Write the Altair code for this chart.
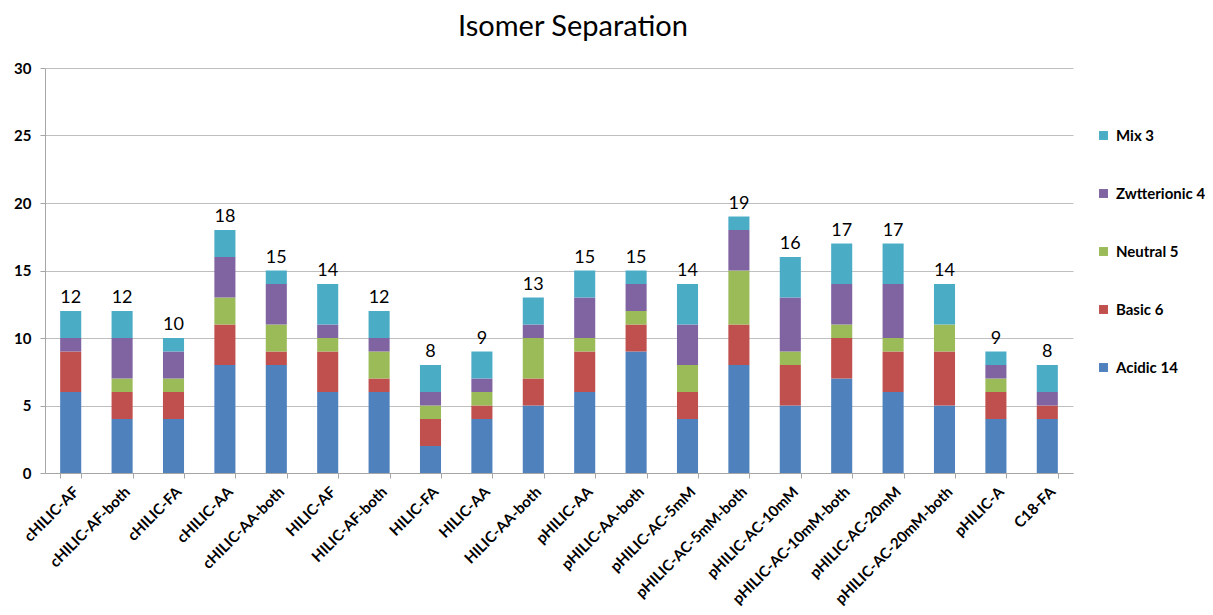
import altair as alt
import pandas as pd

methods = ["cHILIC-AF", "cHILIC-AF-both", "cHILIC-FA", "cHILIC-AA", "cHILIC-AA-both",
           "HILIC-AF", "HILIC-AF-both", "HILIC-FA", "HILIC-AA", "HILIC-AA-both",
           "pHILIC-AA", "pHILIC-AA-both", "pHILIC-AC-5mM", "pHILIC-AC-5mM-both",
           "pHILIC-AC-10mM", "pHILIC-AC-10mM-both", "pHILIC-AC-20mM",
           "pHILIC-AC-20mM-both", "pHILIC-A", "C18-FA"]
acidic = [6, 4, 4, 8, 8, 6, 6, 2, 4, 5, 6, 9, 4, 8, 5, 7, 6, 5, 4, 4]
basic = [3, 2, 2, 3, 1, 3, 1, 2, 1, 2, 3, 2, 2, 3, 3, 3, 3, 4, 2, 1]
neutral = [0, 1, 1, 2, 2, 1, 2, 1, 1, 3, 1, 1, 2, 4, 1, 1, 1, 2, 1, 0]
zwitterionic = [1, 3, 2, 3, 3, 1, 1, 1, 1, 1, 3, 2, 3, 3, 4, 3, 4, 0, 1, 1]
mix = [2, 2, 1, 2, 1, 3, 2, 2, 2, 2, 2, 1, 3, 1, 3, 3, 3, 3, 1, 2]

series_names = ["Acidic 14", "Basic 6", "Neutral 5", "Zwtterionic 4", "Mix 3"]
series_values = [acidic, basic, neutral, zwitterionic, mix]
series_colors = ["#4F81BD", "#C0504D", "#9BBB59", "#8064A2", "#4BACC6"]

rows = []
for si, (name, vals) in enumerate(zip(series_names, series_values)):
    for m, v in zip(methods, vals):
        rows.append({"method": m, "series": name, "value": v, "order": si})
df = pd.DataFrame(rows)

FONT = "Lato"

x_enc = alt.X("method:N", sort=methods, title=None,
              scale=alt.Scale(paddingInner=0.59, paddingOuter=0.295),
              axis=alt.Axis(labelAngle=-45, labelFontWeight="bold", labelFontSize=15,
                            labelColor="black", labelFont=FONT, tickBand="extent",
                            tickSize=5, tickColor="#A6A6A6", domainColor="#A6A6A6",
                            labelPadding=6))

bars = alt.Chart(df).mark_bar().encode(
    x=x_enc,
    y=alt.Y("value:Q", stack="zero", title=None,
            scale=alt.Scale(domain=[0, 30], nice=False),
            axis=alt.Axis(values=[0, 5, 10, 15, 20, 25, 30], labelFontWeight="bold",
                          labelFontSize=15, labelColor="black", labelFont=FONT,
                          gridColor="#BFBFBF", domainColor="#A6A6A6",
                          tickColor="#A6A6A6", tickSize=5, labelPadding=9)),
    color=alt.Color("series:N",
                    scale=alt.Scale(domain=series_names[::-1], range=series_colors[::-1]),
                    legend=alt.Legend(title=None, orient="none", legendX=1051, legendY=60,
                                      symbolType="square", symbolSize=80,
                                      symbolStrokeWidth=0, labelFontSize=15,
                                      labelFontWeight="bold", labelFont=FONT,
                                      labelColor="black", rowPadding=42, labelOffset=5)),
    order=alt.Order("order:Q", sort="ascending"),
)

totals = alt.Chart(df).transform_aggregate(
    total="sum(value)", groupby=["method"]
).mark_text(baseline="bottom", dy=-4, fontSize=18, font=FONT, color="black").encode(
    x=alt.X("method:N", sort=methods),
    y=alt.Y("total:Q"),
    text=alt.Text("total:Q"),
)

chart = alt.layer(bars, totals).properties(
    width=1028, height=405,
    title=alt.TitleParams("Isomer Separation", fontSize=29, font=FONT,
                          fontWeight="normal", color="black", anchor="middle",
                          dx=14, offset=19),
    padding={"left": 37, "top": 60, "right": 132, "bottom": 134},
    autosize=alt.AutoSizeParams(type="none"),
).configure_view(stroke=None).configure_axis(grid=True).configure_axisX(grid=False)

chart.save("out.html", embed_options={"renderer": "svg", "actions": False})
